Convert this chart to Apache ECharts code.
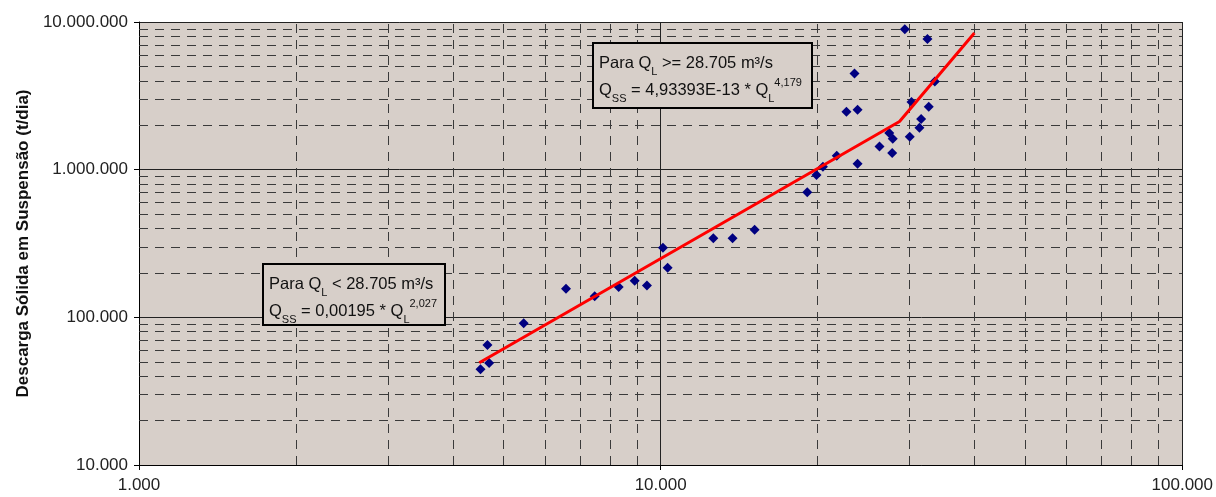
<!DOCTYPE html>
<html><head><meta charset="utf-8">
<script src="https://cdn.jsdelivr.net/npm/echarts@6/dist/echarts.min.js"></script>
<style>html,body{margin:0;padding:0;background:#fff}#c{width:1216px;height:497px}</style>
</head><body><div id="c"></div>
<script>
// Observed data: [vazão líquida Q_L (m³/s), descarga sólida Q_SS (t/dia)]
const observed = [
  [4515, 44500], [4656, 65000], [4690, 49100], [5464, 91100], [6586, 156300],
  [7475, 138700], [8309, 160200], [8917, 177000], [9414, 164500], [10102, 295800],
  [10313, 216700], [12617, 343400], [13738, 343400], [15140, 391400],
  [19100, 702500], [19900, 920900], [20470, 1048000], [21760, 1243000],
  [22710, 2465000], [23530, 4475000], [23850, 2543000], [23850, 1098000],
  [26280, 1437000], [27430, 1770000], [27860, 1620000], [27790, 1297000],
  [29380, 8926000], [30030, 1671000], [30260, 2867000], [31340, 1922000],
  [31580, 2201000], [32470, 7677000], [32660, 2665000], [33540, 3950000]
];
// Fitted curve: start, break point, end
const fitted = [[4490, 49200], [28705, 2120000], [39950, 8420000]];
// Minor gridline values
const xMinor = [2000,3000,4000,5000,6000,7000,8000,9000,20000,30000,40000,50000,60000,70000,80000,90000];
const yMinor = [20000,30000,40000,50000,60000,70000,80000,90000,
  200000,300000,400000,500000,600000,700000,800000,900000,
  2000000,3000000,4000000,5000000,6000000,7000000,8000000,9000000];
const yTitle = 'Descarga Sólida em Suspensão (t/dia)';

const fmt = v => Math.round(v).toString().replace(/\B(?=(\d{3})+(?!\d))/g, '.');
const FONT = '"Liberation Sans", Arial, sans-serif';
const BG = '#d7cfc9';

const chart = echarts.init(document.getElementById('c'), null, {renderer: 'canvas'});
const richStyles = {
  sub: {fontSize: 11, lineHeight: 11, verticalAlign: 'bottom', fontFamily: FONT, fill: '#111'},
  sup: {fontSize: 11, lineHeight: 11, verticalAlign: 'top', fontFamily: FONT, fill: '#111'},
};
function box(left, top, w, h, lines) {
  return {
    type: 'group', left: left, top: top, z: 100,
    children: [
      {type: 'rect', z: 100, shape: {x: 0, y: 0, width: w, height: h},
       style: {fill: BG, stroke: '#000', lineWidth: 2}},
      {type: 'text', z: 101, x: 6, y: 7,
       style: {text: lines, font: '16.5px ' + FONT, fill: '#111', lineHeight: 27, rich: richStyles}}
    ]
  };
}
chart.setOption({
  animation: false,
  backgroundColor: '#fff',
  grid: {left: 139, right: 33, top: 22, bottom: 32, show: true, backgroundColor: BG, borderWidth: 0},
  xAxis: {
    type: 'log', logBase: 10, min: 1000, max: 100000,
    axisLine: {show: true, onZero: false, lineStyle: {color: '#000', width: 1}},
    axisTick: {show: true, length: 5, lineStyle: {color: '#000'}},
    axisLabel: {formatter: fmt, fontFamily: FONT, fontSize: 17, color: '#222', margin: 12},
    splitLine: {show: true, lineStyle: {color: '#222', width: 1, type: 'solid'}}
  },
  yAxis: {
    type: 'log', logBase: 10, min: 10000, max: 10000000,
    name: yTitle, nameLocation: 'middle', nameGap: 94, nameRotate: 90,
    nameTextStyle: {fontFamily: FONT, fontSize: 17, fontWeight: 'bold', color: '#111'},
    axisLine: {show: true, lineStyle: {color: '#000', width: 1}},
    axisTick: {show: true, length: 5, lineStyle: {color: '#000'}},
    axisLabel: {formatter: fmt, fontFamily: FONT, fontSize: 17, color: '#222', margin: 11},
    splitLine: {show: true, lineStyle: {color: '#222', width: 1, type: 'solid'}}
  },
  series: [
    {
      type: 'line', data: [], z: 1, silent: true,
      markLine: {
        silent: true, symbol: 'none', animation: false, z: 1,
        label: {show: false},
        lineStyle: {color: '#3a3a3a', width: 1, type: [9, 7]},
        data: xMinor.map(v => ({xAxis: v})).concat(yMinor.map(v => ({yAxis: v})))
      }
    },
    {
      type: 'scatter', data: observed, symbol: 'diamond', symbolSize: 10, z: 5,
      itemStyle: {color: '#000080', opacity: 1}
    },
    {
      type: 'line', data: fitted, symbol: 'none', z: 6,
      lineStyle: {color: '#ff0000', width: 3}
    }
  ],
  graphic: [
    box(592, 42, 219, 65, 'Para Q{sub|L} >= 28.705 m³/s\nQ{sub|SS} = 4,93393E-13 * Q{sub|L}{sup|4,179}'),
    box(262, 263, 182, 61, 'Para Q{sub|L} < 28.705 m³/s\nQ{sub|SS} = 0,00195 * Q{sub|L}{sup|2,027}')
  ]
});
</script></body></html>
